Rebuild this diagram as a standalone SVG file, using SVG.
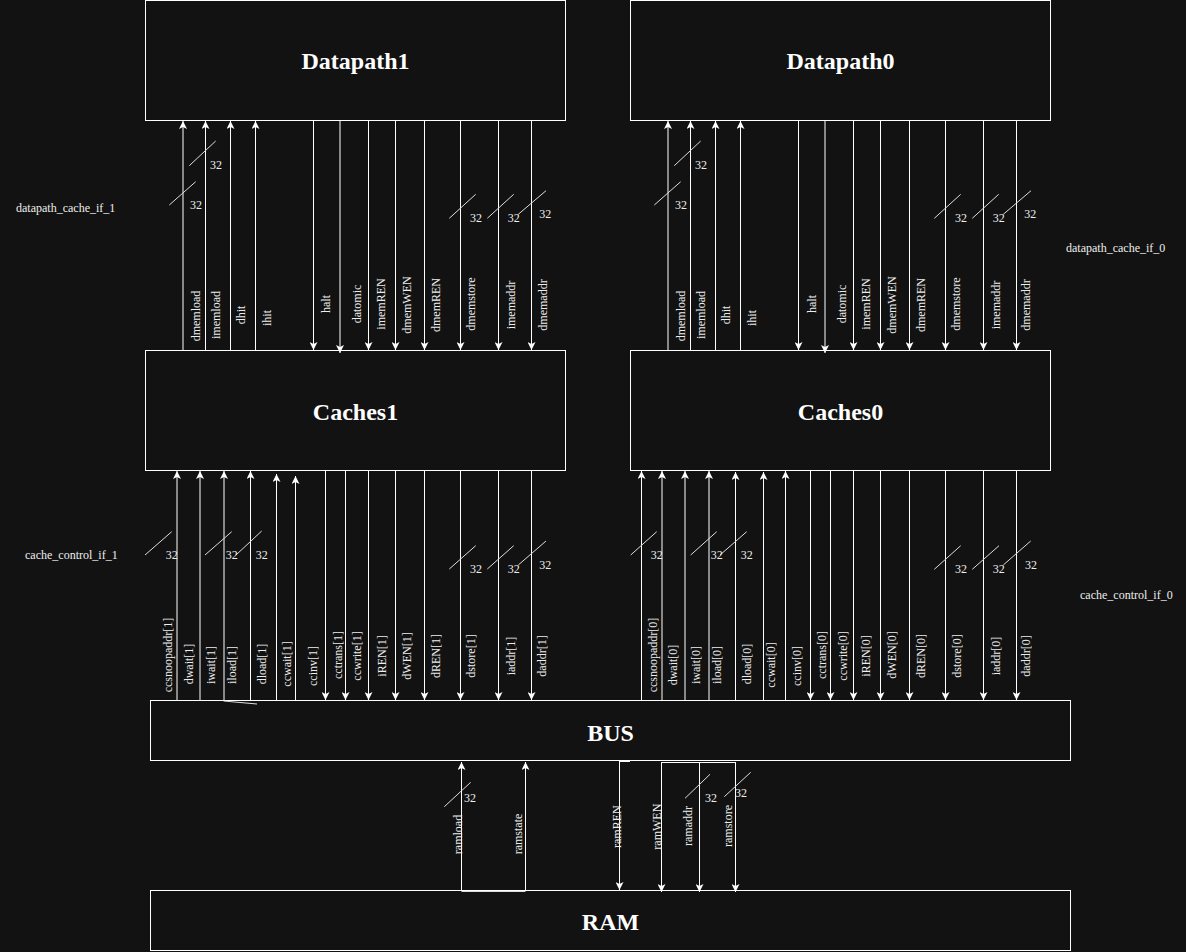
<svg xmlns="http://www.w3.org/2000/svg" width="1186" height="952" viewBox="0 0 1186 952">
<style>
.bg{fill:#121212}
.box{fill:#121212;stroke:#ffffff;stroke-width:1}
.w{stroke:#ffffff;stroke-width:1;fill:none}
.tk{stroke:#dddddd;stroke-width:1;fill:none}
.ttl{font-family:"Liberation Serif",serif;font-weight:bold;font-size:24px;fill:#ffffff;text-anchor:middle}
.l{font-family:"Liberation Serif",serif;font-size:12px;fill:#eeeeee;text-anchor:middle}
.n{font-family:"Liberation Serif",serif;font-size:12px;fill:#eeeeee}
.side{font-family:"Liberation Serif",serif;font-size:12px;fill:#eeeeee}
</style>
<defs>
<marker id="ah" viewBox="0 0 8 8" refX="8" refY="4" markerWidth="8" markerHeight="8" orient="auto" markerUnits="userSpaceOnUse">
<path d="M0,0 L8,4 L0,8 L2,4 Z" fill="#ffffff"/>
</marker>
</defs>
<rect class="bg" x="0" y="0" width="1186" height="952"/>

<g id="Datapath1"><rect class="box" x="145.5" y="0.5" width="420" height="120"/><text class="ttl" x="355.5" y="69">Datapath1</text></g>
<g id="Datapath0"><rect class="box" x="630.5" y="0.5" width="420" height="120"/><text class="ttl" x="840.5" y="69">Datapath0</text></g>
<g id="Caches1"><rect class="box" x="145.5" y="350.5" width="420" height="120"/><text class="ttl" x="355.5" y="420">Caches1</text></g>
<g id="Caches0"><rect class="box" x="630.5" y="350.5" width="420" height="120"/><text class="ttl" x="840.5" y="420">Caches0</text></g>
<g id="BUS"><rect class="box" x="150.5" y="700.5" width="920" height="60"/><text class="ttl" x="610.5" y="741">BUS</text></g>
<g id="RAM"><rect class="box" x="150.5" y="890.5" width="920" height="60"/><text class="ttl" x="610.5" y="930">RAM</text></g>

<g id="interface-labels">
<text class="side" x="16" y="212">datapath_cache_if_1</text>
<text class="side" x="25" y="559">cache_control_if_1</text>
<text class="side" x="1066" y="252">datapath_cache_if_0</text>
<text class="side" x="1080" y="599">cache_control_if_0</text>
</g>

<g id="connectors">
<!-- Datapath1 <-> Caches1 -->
<path class="w" marker-end="url(#ah)" d="M183,351 V121"/>
<path class="w" marker-end="url(#ah)" d="M205.5,351 V121"/>
<path class="w" marker-end="url(#ah)" d="M230.5,351 V121"/>
<path class="w" marker-end="url(#ah)" d="M255.5,351 V121"/>
<path class="w" marker-end="url(#ah)" d="M313.5,120 V350"/>
<path class="w" marker-end="url(#ah)" d="M340,120 V353"/>
<path class="w" marker-end="url(#ah)" d="M368.5,120 V350"/>
<path class="w" marker-end="url(#ah)" d="M395.5,120 V350"/>
<path class="w" marker-end="url(#ah)" d="M424.5,120 V350"/>
<path class="w" marker-end="url(#ah)" d="M460.5,120 V350"/>
<path class="w" marker-end="url(#ah)" d="M498.5,120 V350"/>
<path class="w" marker-end="url(#ah)" d="M531.5,120 V350"/>
<path class="tk" d="M169.3,205 L195.7,181.7 M189.3,165.7 L215.7,141 M449.3,218.3 L475.7,194.3 M487.3,218.3 L513.7,194.3 M518.3,214.3 L546,190.7"/>
<text class="n" x="190" y="209">32</text>
<text class="n" x="210" y="169">32</text>
<text class="n" x="470" y="222">32</text>
<text class="n" x="507.7" y="222">32</text>
<text class="n" x="539.3" y="218">32</text>
<text class="l" transform="translate(195.5,316) rotate(-90)" y="4">dmemload</text>
<text class="l" transform="translate(215.8,315) rotate(-90)" y="4">imemload</text>
<text class="l" transform="translate(241,315) rotate(-90)" y="4">dhit</text>
<text class="l" transform="translate(267,318) rotate(-90)" y="4">ihit</text>
<text class="l" transform="translate(326,304) rotate(-90)" y="4">halt</text>
<text class="l" transform="translate(356.5,304) rotate(-90)" y="4">datomic</text>
<text class="l" transform="translate(380.7,304) rotate(-90)" y="4">imemREN</text>
<text class="l" transform="translate(407,305) rotate(-90)" y="4">dmemWEN</text>
<text class="l" transform="translate(436,305) rotate(-90)" y="4">dmemREN</text>
<text class="l" transform="translate(471,304) rotate(-90)" y="4">dmemstore</text>
<text class="l" transform="translate(510.5,305) rotate(-90)" y="4">imemaddr</text>
<text class="l" transform="translate(542.5,305) rotate(-90)" y="4">dmemaddr</text>

<!-- Datapath0 <-> Caches0 -->
<path class="w" marker-end="url(#ah)" d="M668,351 V121"/>
<path class="w" marker-end="url(#ah)" d="M690.5,351 V121"/>
<path class="w" marker-end="url(#ah)" d="M715.5,351 V121"/>
<path class="w" marker-end="url(#ah)" d="M740.5,351 V121"/>
<path class="w" marker-end="url(#ah)" d="M798.5,120 V350"/>
<path class="w" marker-end="url(#ah)" d="M825,120 V353"/>
<path class="w" marker-end="url(#ah)" d="M853.5,120 V350"/>
<path class="w" marker-end="url(#ah)" d="M880.5,120 V350"/>
<path class="w" marker-end="url(#ah)" d="M909.5,120 V350"/>
<path class="w" marker-end="url(#ah)" d="M945.5,120 V350"/>
<path class="w" marker-end="url(#ah)" d="M983.5,120 V350"/>
<path class="w" marker-end="url(#ah)" d="M1016.5,120 V350"/>
<path class="tk" d="M654.3,205 L680.7,181.7 M674.3,165.7 L700.7,141 M934.3,218.3 L960.7,194.3 M972.3,218.3 L998.7,194.3 M1003.3,214.3 L1031,190.7"/>
<text class="n" x="675" y="209">32</text>
<text class="n" x="695" y="169">32</text>
<text class="n" x="955" y="222">32</text>
<text class="n" x="992.7" y="222">32</text>
<text class="n" x="1024.3" y="218">32</text>
<text class="l" transform="translate(680.5,316) rotate(-90)" y="4">dmemload</text>
<text class="l" transform="translate(700.8,315) rotate(-90)" y="4">imemload</text>
<text class="l" transform="translate(726,315) rotate(-90)" y="4">dhit</text>
<text class="l" transform="translate(752,318) rotate(-90)" y="4">ihit</text>
<text class="l" transform="translate(811.5,304) rotate(-90)" y="4">halt</text>
<text class="l" transform="translate(841.5,304) rotate(-90)" y="4">datomic</text>
<text class="l" transform="translate(865.7,304) rotate(-90)" y="4">imemREN</text>
<text class="l" transform="translate(892,305) rotate(-90)" y="4">dmemWEN</text>
<text class="l" transform="translate(921,305) rotate(-90)" y="4">dmemREN</text>
<text class="l" transform="translate(956,304) rotate(-90)" y="4">dmemstore</text>
<text class="l" transform="translate(995.5,305) rotate(-90)" y="4">imemaddr</text>
<text class="l" transform="translate(1026,305) rotate(-90)" y="4">dmemaddr</text>

<!-- Caches1 <-> BUS -->
<path class="w" marker-end="url(#ah)" d="M177,701 V471"/>
<path class="w" marker-end="url(#ah)" d="M200,701 V471"/>
<path class="w" marker-end="url(#ah)" d="M224,701 V471"/>
<path class="w" marker-end="url(#ah)" d="M250.5,701 V471"/>
<path class="w" marker-end="url(#ah)" d="M276.5,701 V474"/>
<path class="w" marker-end="url(#ah)" d="M295.5,701 V476"/>
<path class="w" marker-end="url(#ah)" d="M325.5,470 V700"/>
<path class="w" marker-end="url(#ah)" d="M345.5,470 V700"/>
<path class="w" marker-end="url(#ah)" d="M368.5,470 V700"/>
<path class="w" marker-end="url(#ah)" d="M395.5,470 V700"/>
<path class="w" marker-end="url(#ah)" d="M424.5,470 V700"/>
<path class="w" marker-end="url(#ah)" d="M460.5,470 V700"/>
<path class="w" marker-end="url(#ah)" d="M498.5,470 V700"/>
<path class="w" marker-end="url(#ah)" d="M531.5,470 V700"/>
<path class="tk" d="M223.5,701 L257,704"/>
<path class="tk" d="M145,555 L171.7,531.7 M205,555 L231.7,531.7 M236,555 L261.7,531 M449.3,569 L475.7,545.7 M487.3,569 L513.7,545.7 M518.3,565 L546,541"/>
<text class="n" x="165.7" y="559">32</text>
<text class="n" x="225.7" y="559">32</text>
<text class="n" x="255.7" y="559">32</text>
<text class="n" x="470" y="573">32</text>
<text class="n" x="507.7" y="573">32</text>
<text class="n" x="539.3" y="569">32</text>
<text class="l" transform="translate(168.3,655) rotate(-90)" y="4">ccsnoopaddr[1]</text>
<text class="l" transform="translate(188.7,664) rotate(-90)" y="4">dwait[1]</text>
<text class="l" transform="translate(211.3,665) rotate(-90)" y="4">iwait[1]</text>
<text class="l" transform="translate(232.3,665) rotate(-90)" y="4">iload[1]</text>
<text class="l" transform="translate(262.3,664) rotate(-90)" y="4">dload[1]</text>
<text class="l" transform="translate(287,664) rotate(-90)" y="4">ccwait[1]</text>
<text class="l" transform="translate(312.5,666) rotate(-90)" y="4">ccinv[1]</text>
<text class="l" transform="translate(338,655) rotate(-90)" y="4">cctrans[1]</text>
<text class="l" transform="translate(357,656) rotate(-90)" y="4">ccwrite[1]</text>
<text class="l" transform="translate(381.7,656) rotate(-90)" y="4">iREN[1]</text>
<text class="l" transform="translate(406.7,656) rotate(-90)" y="4">dWEN[1]</text>
<text class="l" transform="translate(436.3,656) rotate(-90)" y="4">dREN[1]</text>
<text class="l" transform="translate(471,656) rotate(-90)" y="4">dstore[1]</text>
<text class="l" transform="translate(511.3,656) rotate(-90)" y="4">iaddr[1]</text>
<text class="l" transform="translate(541.7,656) rotate(-90)" y="4">daddr[1]</text>

<!-- Caches0 <-> BUS -->
<path class="w" marker-end="url(#ah)" d="M641.5,701 V471"/>
<path class="w" marker-end="url(#ah)" d="M662,701 V471"/>
<path class="w" marker-end="url(#ah)" d="M685,701 V471"/>
<path class="w" marker-end="url(#ah)" d="M709,701 V471"/>
<path class="w" marker-end="url(#ah)" d="M735.5,701 V472"/>
<path class="w" marker-end="url(#ah)" d="M763.5,701 V472"/>
<path class="w" marker-end="url(#ah)" d="M785.5,701 V471"/>
<path class="w" marker-end="url(#ah)" d="M810.5,470 V700"/>
<path class="w" marker-end="url(#ah)" d="M830.5,470 V700"/>
<path class="w" marker-end="url(#ah)" d="M853.5,470 V700"/>
<path class="w" marker-end="url(#ah)" d="M880.5,470 V700"/>
<path class="w" marker-end="url(#ah)" d="M909.5,470 V700"/>
<path class="w" marker-end="url(#ah)" d="M945.5,470 V700"/>
<path class="w" marker-end="url(#ah)" d="M983.5,470 V700"/>
<path class="w" marker-end="url(#ah)" d="M1016.5,470 V700"/>
<path class="tk" d="M630.7,555 L656.7,531.7 M690.7,555 L716.7,531.7 M720,555 L746.7,531.7 M934.3,569.3 L960.7,545.7 M972.3,569.3 L999,545.7 M1003.3,565 L1030.7,541"/>
<text class="n" x="650.7" y="559">32</text>
<text class="n" x="710.7" y="559">32</text>
<text class="n" x="740.7" y="559">32</text>
<text class="n" x="955" y="573">32</text>
<text class="n" x="992.7" y="573">32</text>
<text class="n" x="1025" y="569">32</text>
<text class="l" transform="translate(652.5,655) rotate(-90)" y="4">ccsnoopaddr[0]</text>
<text class="l" transform="translate(673,665) rotate(-90)" y="4">dwait[0]</text>
<text class="l" transform="translate(696,665) rotate(-90)" y="4">iwait[0]</text>
<text class="l" transform="translate(716.7,665) rotate(-90)" y="4">iload[0]</text>
<text class="l" transform="translate(747,664) rotate(-90)" y="4">dload[0]</text>
<text class="l" transform="translate(771.3,665) rotate(-90)" y="4">ccwait[0]</text>
<text class="l" transform="translate(797,666) rotate(-90)" y="4">ccinv[0]</text>
<text class="l" transform="translate(821.7,655) rotate(-90)" y="4">cctrans[0]</text>
<text class="l" transform="translate(842.5,656) rotate(-90)" y="4">ccwrite[0]</text>
<text class="l" transform="translate(866.3,656) rotate(-90)" y="4">iREN[0]</text>
<text class="l" transform="translate(892,655) rotate(-90)" y="4">dWEN[0]</text>
<text class="l" transform="translate(921.3,656) rotate(-90)" y="4">dREN[0]</text>
<text class="l" transform="translate(957,656) rotate(-90)" y="4">dstore[0]</text>
<text class="l" transform="translate(996,656) rotate(-90)" y="4">iaddr[0]</text>
<text class="l" transform="translate(1026,656) rotate(-90)" y="4">daddr[0]</text>

<!-- BUS <-> RAM -->
<path class="w" marker-end="url(#ah)" d="M461.5,891 V762"/>
<path class="w" marker-end="url(#ah)" d="M525.5,891 V762"/>
<path class="tk" d="M461.5,891.5 H525.5"/>
<path class="w" marker-end="url(#ah)" d="M619.5,761 V890"/>
<path class="w" d="M619.5,761.5 H630"/>
<path class="w" d="M661.5,762.5 H735.5"/>
<path class="w" marker-end="url(#ah)" d="M661.5,762 V892"/>
<path class="w" marker-end="url(#ah)" d="M699.5,762 V892"/>
<path class="w" marker-end="url(#ah)" d="M735.5,762 V892"/>
<path class="tk" d="M444.3,806.7 L470.7,782.3 M685,798.3 L710,774.3 M724.3,796.7 L750.7,772.3"/>
<text class="n" x="464" y="802">32</text>
<text class="n" x="705" y="802">32</text>
<text class="n" x="735" y="797">32</text>
<text class="l" transform="translate(457.5,834.5) rotate(-90)" y="4">ramload</text>
<text class="l" transform="translate(517.5,834) rotate(-90)" y="4">ramstate</text>
<text class="l" transform="translate(616.7,826.7) rotate(-90)" y="4">ramREN</text>
<text class="l" transform="translate(656.7,826.7) rotate(-90)" y="4">ramWEN</text>
<text class="l" transform="translate(687.5,826) rotate(-90)" y="4">ramaddr</text>
<text class="l" transform="translate(728,826) rotate(-90)" y="4">ramstore</text>
</g>
</svg>
